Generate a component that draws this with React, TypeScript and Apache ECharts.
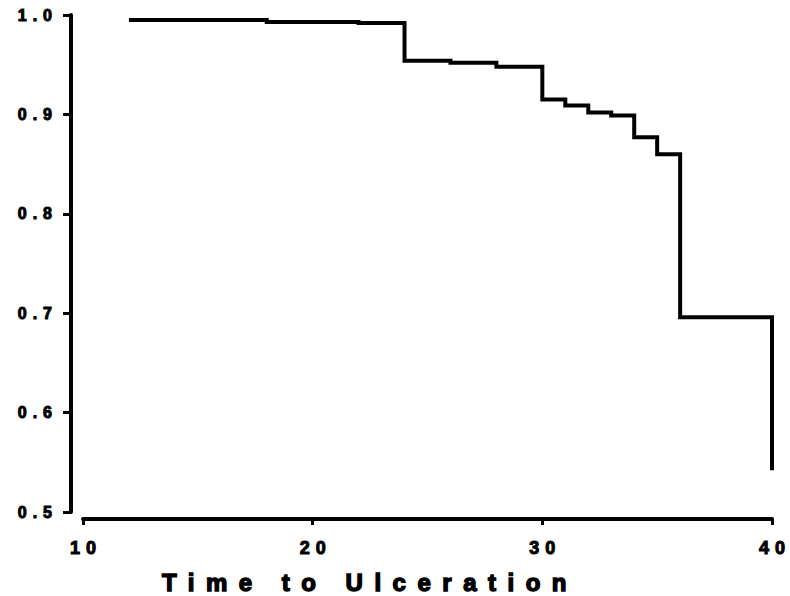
import React, { useEffect, useRef } from "react";
import * as echarts from "echarts";

const times = [12, 18, 22, 24, 26, 28, 30, 31, 32, 33, 34, 35, 36, 40];
const survival = [0.995, 0.993, 0.992, 0.954, 0.952, 0.948, 0.915, 0.909, 0.902, 0.899, 0.877, 0.86, 0.696, 0.542];
const xMin = 10;
const xMax = 40;
const xStep = 10;
const yMin = 0.5;
const yMax = 1.0;
const yStep = 0.1;
const TITLE = "Time to Ulceration";

const FONT = '"Liberation Sans", Arial, sans-serif';

export default function App() {
  const ref = useRef<HTMLDivElement>(null);
  useEffect(() => {
    if (!ref.current) return;
    const chart = echarts.init(ref.current, null, { renderer: "svg" });
    chart.setOption({
      animation: false,
      backgroundColor: "#ffffff",
      grid: { left: 83, right: 18, top: 15, bottom: 84, containLabel: false },
      xAxis: {
        type: "value",
        min: xMin,
        max: xMax,
        interval: xStep,
        offset: 7,
        axisLine: { show: true, lineStyle: { color: "#000", width: 4 } },
        axisTick: { show: true, inside: false, length: 6, lineStyle: { color: "#000", width: 3 } },
        splitLine: { show: false },
        axisLabel: {
          color: "#000",
          fontFamily: FONT,
          fontWeight: "bold",
          fontSize: 18,
          margin: 20,
          padding: [0, 0, 0, 6],
          textBorderColor: "#000",
          textBorderWidth: 1,
        },
      },
      yAxis: {
        type: "value",
        min: yMin,
        max: yMax,
        interval: yStep,
        offset: 12,
        axisLine: { show: true, lineStyle: { color: "#000", width: 4 } },
        axisTick: { show: true, inside: false, length: 8, lineStyle: { color: "#000", width: 3 } },
        splitLine: { show: false },
        axisLabel: {
          color: "#000",
          fontFamily: FONT,
          fontWeight: "bold",
          fontSize: 16,
          margin: 13,
          textBorderColor: "#000",
          textBorderWidth: 1,
          formatter: (v: number) => v.toFixed(1),
        },
      },
      graphic: [
        {
          type: "text",
          x: 370,
          y: 582,
          silent: true,
          style: {
            text: TITLE,
            font: `bold 24px ${FONT}`,
            fill: "#000",
            stroke: "#000",
            lineWidth: 1.4,
            textAlign: "center",
            textVerticalAlign: "middle",
          },
        },
      ],
      series: [
        {
          type: "line",
          step: "end",
          symbol: "none",
          silent: true,
          lineStyle: { color: "#000", width: 4, join: "miter", cap: "butt" },
          data: times.map((t, i) => [t, survival[i]]),
        },
      ],
    });
    const space = () => {
      if (!ref.current) return;
      ref.current.querySelectorAll("text").forEach((t) => {
        const el = t as SVGTextElement;
        el.style.letterSpacing = el.textContent === TITLE ? "11.5px" : "6px";
      });
    };
    chart.on("finished", space);
    space();
    const raf = requestAnimationFrame(space);
    return () => {
      cancelAnimationFrame(raf);
      chart.dispose();
    };
  }, []);
  return (
    <div
      ref={ref}
      style={{ position: "fixed", left: 0, top: 0, width: 790, height: 596, background: "#fff" }}
    />
  );
}
